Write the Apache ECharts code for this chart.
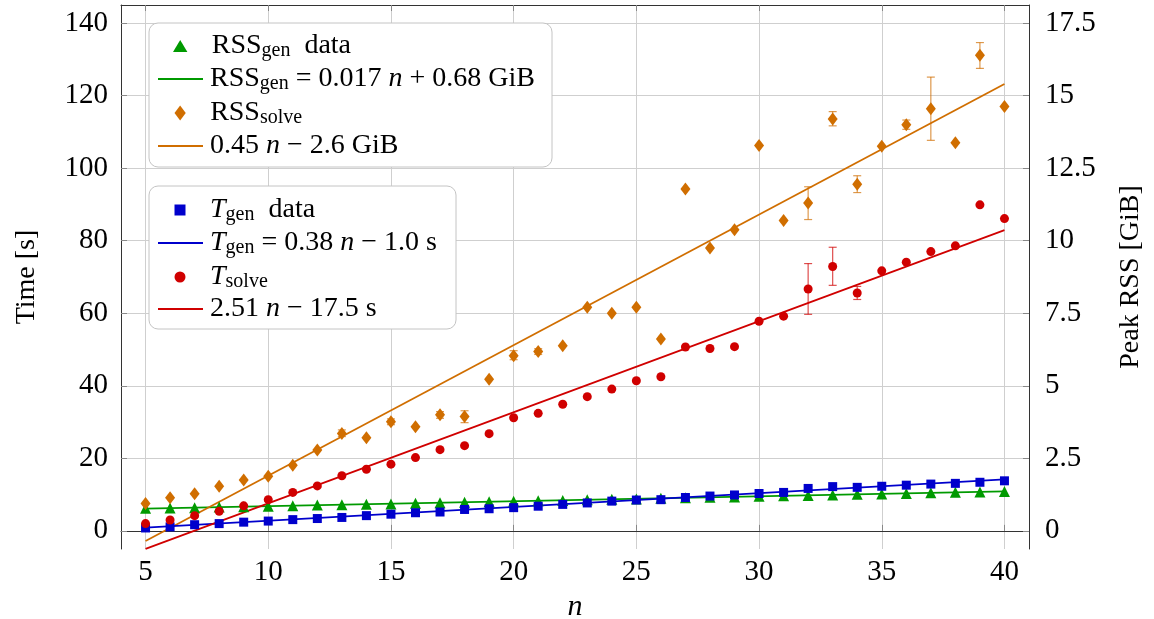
<!DOCTYPE html>
<html>
<head>
<meta charset="utf-8">
<script src="https://cdn.jsdelivr.net/npm/echarts@6/dist/echarts.min.js"></script>
<style>
  html, body { margin: 0; padding: 0; background: #fff; }
  #chart { width: 1154px; height: 619px; }
</style>
</head>
<body>
<div id="chart"></div>
<script>
// n values
const nList = [5, 6, 7, 8, 9, 10, 11, 12, 13, 14, 15, 16, 17, 18, 19, 20, 21, 22,
  23, 24, 25, 26, 27, 28, 29, 30, 31, 32, 33, 34, 35, 36, 37, 38, 39, 40]

// time [s]
const tGen = [0.8, 1.1, 1.7, 2.0, 2.4, 2.7, 3.1, 3.4, 3.7, 4.2, 4.6, 5.0, 5.2, 5.9, 6.1, 6.4, 6.8, 7.3,
  7.7, 8.2, 8.5, 8.6, 9.2, 9.6, 9.9, 10.3, 10.6, 11.7, 12.2, 12.0, 12.3, 12.6, 12.9, 13.1, 13.4, 13.8]
const tSolve = [2.0, 3.0, 4.2, 5.4, 6.9, 8.6, 10.6, 12.4, 15.2, 17.0, 18.4, 20.2, 22.4, 23.5, 26.8, 31.2, 32.4, 34.9,
  37.0, 39.1, 41.4, 42.5, 50.7, 50.3, 50.8, 57.8, 59.2, 66.7, 72.9, 65.6, 71.7, 74.1, 77.0, 78.6, 89.9, 86.1]

// peak RSS [GiB]
const rssGen = [0.78, 0.79, 0.80, 0.82, 0.83, 0.85, 0.87, 0.89, 0.90, 0.92, 0.93, 0.95, 0.97, 0.99, 1.00, 1.02, 1.04, 1.05,
  1.07, 1.09, 1.10, 1.12, 1.14, 1.16, 1.17, 1.19, 1.21, 1.22, 1.24, 1.26, 1.27, 1.29, 1.31, 1.33, 1.34, 1.36]
const rssSolve = [0.94, 1.14, 1.28, 1.54, 1.75, 1.88, 2.26, 2.79, 3.36, 3.21, 3.76, 3.59, 4.00, 3.94, 5.23, 6.04, 6.18, 6.38,
  7.71, 7.50, 7.71, 6.61, 11.78, 9.75, 10.38, 13.28, 10.70, 11.30, 14.20, 11.95, 13.26, 14.00, 14.55, 13.38, 16.39, 14.63]

// error bars [n, low, high]
const tGenErr = [[32, 11.2, 12.2]]
const tSolveErr = [[32, 59.7, 73.7], [33, 67.7, 78.2], [34, 63.8, 67.4]]
const rssSolveErr = [[13, 3.25, 3.48], [15, 3.66, 3.86], [17, 3.88, 4.11], [18, 3.73, 4.14], [20, 5.90, 6.21],
  [21, 6.08, 6.28], [32, 10.73, 11.86], [33, 13.96, 14.45], [34, 11.66, 12.24], [36, 13.84, 14.16],
  [37, 13.46, 15.64], [39, 15.94, 16.83]]

// fitted lines, end points at n = 5 and n = 40
const fitN = [5, 40]
const tGenFit = [0.9, 14.2]
const tSolveFit = [-4.95, 82.9]
const rssGenFit = [0.765, 1.36]
const rssSolveFit = [-0.35, 15.4]

// ticks
const xTicks = [5, 10, 15, 20, 25, 30, 35, 40]
const timeTicks = [0, 20, 40, 60, 80, 100, 120, 140]
const rssTicks = [0, 2.5, 5, 7.5, 10, 12.5, 15, 17.5]

const FONT = '"Liberation Serif", serif'
const GREEN = '#009a00'
const ORANGE = '#d06e00'
const BLUE = '#0000cc'
const RED = '#d00000'

const zip = (xs, ys) => xs.map((x, i) => [x, ys[i]])

const rich = {
  r: { fontFamily: FONT, fontSize: 28, color: '#000', lineHeight: 30 },
  i: { fontFamily: FONT, fontSize: 28, fontStyle: 'italic', color: '#000', lineHeight: 30 },
  s: { fontFamily: FONT, fontSize: 20, color: '#000', lineHeight: 18, verticalAlign: 'bottom', padding: [10, 0, 0, 0] },
}

// legend rows: name, label, icon, icon width, icon height, row centre y
const ICON_LINE = 'path://M0,0 L45,0 L45,2 L0,2 Z'
const legendRows = [
  ['RSSgen data', '{r|RSS}{s|gen}{r|  data}', 'path://M6,0 L12,10 L0,10 Z', 14, 12, 47],
  ['RSSgen fit', '{r|RSS}{s|gen}{r| = 0.017 }{i|n}{r| + 0.68 GiB}', ICON_LINE, 45, 12, 80],
  ['RSSsolve', '{r|RSS}{s|solve}', 'path://M4.5,0 L9,6 L4.5,12 L0,6 Z', 11, 15, 114],
  ['RSSsolve fit', '{r|0.45 }{i|n}{r| − 2.6 GiB}', ICON_LINE, 45, 12, 148],
  ['Tgen data', '{i|T}{s|gen}{r|  data}', 'path://M0,0 L9,0 L9,9 L0,9 Z', 11, 11, 211],
  ['Tgen fit', '{i|T}{s|gen}{r| = 0.38 }{i|n}{r| − 1.0 s}', ICON_LINE, 45, 12, 244],
  ['Tsolve', '{i|T}{s|solve}', 'circle', 11, 11, 278],
  ['Tsolve fit', '{r|2.51 }{i|n}{r| − 17.5 s}', ICON_LINE, 45, 12, 311],
]

const legends = legendRows.map(([name, label, icon, w, h, y]) => {
  const left = w === 45 ? 158 : 180 - w / 2
  const pad = w === 45 ? 2 : 210 - (left + 35) + 2
  return {
    data: [{ name: name, icon: icon }],
    left: left,
    top: y - 16,
    padding: 0,
    itemWidth: 45,
    itemHeight: h,
    symbolKeepAspect: true,
    selectedMode: false,
    z: 8,
    formatter: () => label,
    textStyle: { rich: rich, padding: [0, 0, 0, pad] },
  }
})

function errorBars(data, color, yAxisIndex) {
  return {
    type: 'custom',
    yAxisIndex: yAxisIndex,
    data: data,
    z: 3,
    encode: { x: 0, y: [1, 2] },
    renderItem: (params, api) => {
      const x = api.value(0)
      const lo = api.coord([x, api.value(1)])
      const hi = api.coord([x, api.value(2)])
      const w = 4
      const style = { stroke: color, lineWidth: 1.2, opacity: 0.7 }
      return {
        type: 'group',
        children: [
          { type: 'line', shape: { x1: lo[0], y1: lo[1], x2: hi[0], y2: hi[1] }, style: style },
          { type: 'line', shape: { x1: lo[0] - w, y1: lo[1], x2: lo[0] + w, y2: lo[1] }, style: style },
          { type: 'line', shape: { x1: hi[0] - w, y1: hi[1], x2: hi[0] + w, y2: hi[1] }, style: style },
        ],
      }
    },
  }
}

function fitLine(name, ys, color, yAxisIndex) {
  return {
    name: name,
    type: 'line',
    yAxisIndex: yAxisIndex,
    data: zip(fitN, ys),
    symbol: 'none',
    z: 2,
    lineStyle: { color: color, width: 1.8 },
    itemStyle: { color: color },
  }
}

function dots(name, ys, color, symbol, size, yAxisIndex) {
  return {
    name: name,
    type: 'scatter',
    yAxisIndex: yAxisIndex,
    data: zip(nList, ys),
    symbol: symbol,
    symbolSize: size,
    z: 4,
    itemStyle: { color: color, opacity: 1 },
  }
}

const tickLabel = { fontFamily: FONT, fontSize: 29, color: '#000' }
const boxStyle = { fill: '#fff', stroke: '#c4c4c4', lineWidth: 1 }

const chart = echarts.init(document.getElementById('chart'))
chart.setOption({
  animation: false,
  backgroundColor: '#fff',
  grid: { left: 121, right: 125, top: 5, bottom: 70, containLabel: false, outerBoundsMode: 'none' },
  legend: legends,
  graphic: [
    { type: 'rect', z: 7, shape: { x: 149, y: 23, width: 403, height: 144, r: 9 }, style: boxStyle },
    { type: 'rect', z: 7, shape: { x: 149, y: 186, width: 307, height: 143, r: 9 }, style: boxStyle },
  ],
  xAxis: [
    {
      type: 'value', min: 4, max: 41, position: 'bottom',
      name: 'n', nameLocation: 'middle', nameGap: 42,
      nameTextStyle: { fontFamily: FONT, fontSize: 30, fontStyle: 'italic', color: '#000' },
      axisLine: { show: true, lineStyle: { color: '#333', width: 1 } },
      axisTick: { inside: true, length: 6, customValues: xTicks, lineStyle: { color: '#888' } },
      axisLabel: Object.assign({ customValues: xTicks, margin: 9 }, tickLabel),
      splitLine: { show: true, lineStyle: { color: '#cfcfcf', width: 1 } },
    },
    {
      type: 'value', min: 4, max: 41, position: 'top',
      axisLine: { show: true, onZero: false, lineStyle: { color: '#333', width: 1 } },
      axisTick: { inside: true, length: 6, customValues: xTicks, lineStyle: { color: '#888' } },
      axisLabel: { show: false },
      splitLine: { show: false },
    },
  ],
  yAxis: [
    {
      type: 'value', min: -5, max: 145, position: 'left',
      name: 'Time [s]', nameLocation: 'middle', nameGap: 80, nameRotate: 90,
      nameTextStyle: { fontFamily: FONT, fontSize: 28, color: '#000' },
      axisLine: { show: true, onZero: false, lineStyle: { color: '#333', width: 1 } },
      axisTick: { show: true, inside: true, length: 6, customValues: timeTicks, lineStyle: { color: '#888' } },
      axisLabel: Object.assign({ customValues: timeTicks, margin: 13 }, tickLabel),
      splitLine: { show: true, lineStyle: { color: '#cfcfcf', width: 1 } },
    },
    {
      type: 'value', min: -0.625, max: 18.125, position: 'right',
      name: 'Peak RSS [GiB]', nameLocation: 'middle', nameGap: 88, nameRotate: 90,
      nameTextStyle: { fontFamily: FONT, fontSize: 28, color: '#000' },
      axisLine: { show: true, onZero: false, lineStyle: { color: '#333', width: 1 } },
      axisTick: { show: true, inside: true, length: 6, customValues: rssTicks, lineStyle: { color: '#888' } },
      axisLabel: Object.assign({ customValues: rssTicks, margin: 16 }, tickLabel),
      splitLine: { show: false },
    },
  ],
  series: [
    fitLine('RSSgen fit', rssGenFit, GREEN, 1),
    fitLine('RSSsolve fit', rssSolveFit, ORANGE, 1),
    fitLine('Tgen fit', tGenFit, BLUE, 0),
    fitLine('Tsolve fit', tSolveFit, RED, 0),
    errorBars(rssSolveErr, ORANGE, 1),
    errorBars(tGenErr, BLUE, 0),
    errorBars(tSolveErr, RED, 0),
    dots('RSSgen data', rssGen, GREEN, 'triangle', 11, 1),
    dots('RSSsolve', rssSolve, ORANGE, 'diamond', [10, 13], 1),
    dots('Tgen data', tGen, BLUE, 'rect', 9, 0),
    dots('Tsolve', tSolve, RED, 'circle', 9, 0),
  ],
})
</script>
</body>
</html>
